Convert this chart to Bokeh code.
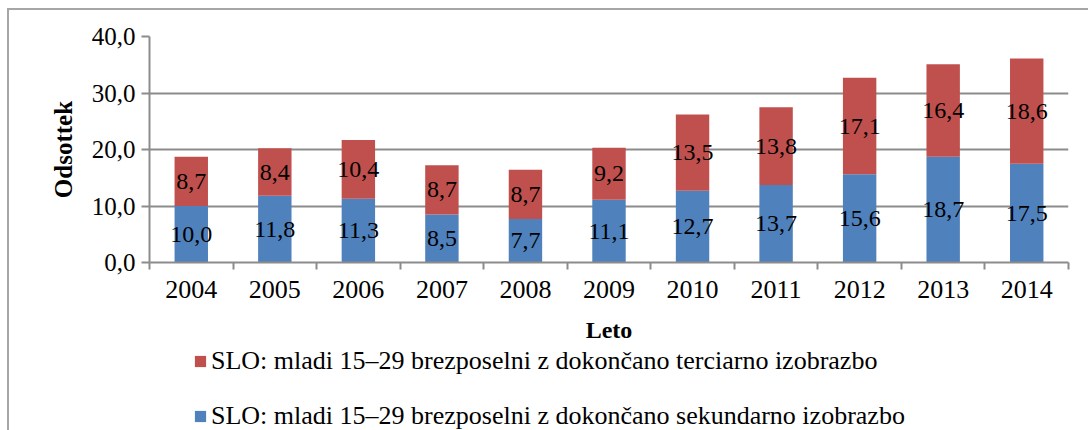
from bokeh.plotting import figure
from bokeh.models import (ColumnDataSource, Range1d, FixedTicker, LabelSet,
                          Legend, LegendItem)
from bokeh.layouts import column
from bokeh.core.properties import value
from bokeh.embed import file_html
from bokeh.resources import INLINE

years = ["2004", "2005", "2006", "2007", "2008", "2009", "2010", "2011", "2012", "2013", "2014"]
sekundarno = [10.0, 11.8, 11.3, 8.5, 7.7, 11.1, 12.7, 13.7, 15.6, 18.7, 17.5]
terciarno = [8.7, 8.4, 10.4, 8.7, 8.7, 9.2, 13.5, 13.8, 17.1, 16.4, 18.6]
y_ticks = [0, 10, 20, 30, 40]
name_sek = "SLO: mladi 15–29 brezposelni z dokončano sekundarno izobrazbo"
name_ter = "SLO: mladi 15–29 brezposelni z dokončano terciarno izobrazbo"

FONT = "Liberation Serif"
BLUE = "#4F81BD"
RED = "#C0504D"
GRAY = "#8C8C8C"

def fmt(v):
    return ("%.1f" % v).replace(".", ",")

x = [i + 0.5 for i in range(len(years))]
top = [a + b for a, b in zip(sekundarno, terciarno)]
src = ColumnDataSource(dict(
    x=x, sek=sekundarno, ter=terciarno, top=top,
    sek_mid=[a / 2 for a in sekundarno],
    ter_mid=[a + b / 2 for a, b in zip(sekundarno, terciarno)],
    sek_lbl=[fmt(v) for v in sekundarno],
    ter_lbl=[fmt(v) for v in terciarno],
))

p = figure(frame_width=919, frame_height=226, output_backend="svg", toolbar_location=None,
           x_range=Range1d(0, len(years)), y_range=Range1d(0, 40),
           min_border_left=140, min_border_right=20, min_border_top=26, min_border_bottom=60)
p.outline_line_color = None
p.background_fill_color = "white"
p.border_fill_color = "white"

r_sek = p.vbar(x="x", bottom=0, top="sek", width=0.4, source=src,
               fill_color=BLUE, line_color=None)
r_ter = p.vbar(x="x", bottom="sek", top="top", width=0.4, source=src,
               fill_color=RED, line_color=None)

for col_y, col_t in (("sek_mid", "sek_lbl"), ("ter_mid", "ter_lbl")):
    p.add_layout(LabelSet(x="x", y=col_y, text=col_t, source=src,
                          text_align="center", text_baseline="middle",
                          text_font=value(FONT), text_font_size="24px",
                          text_color="black"))

# y axis
p.yaxis.ticker = FixedTicker(ticks=y_ticks)
p.yaxis.major_label_overrides = {t: fmt(t) for t in y_ticks}
p.yaxis.minor_tick_line_color = None
p.yaxis.major_tick_out = 8
p.yaxis.major_tick_in = 0
p.yaxis.axis_line_color = GRAY
p.yaxis.axis_line_width = 2
p.yaxis.major_tick_line_color = GRAY
p.yaxis.major_tick_line_width = 2
p.yaxis.major_label_text_font = FONT
p.yaxis.major_label_text_font_size = "25px"
p.yaxis.major_label_text_color = "black"
p.yaxis.major_label_standoff = 6
p.yaxis.axis_label = "Odsottek"
p.yaxis.axis_label_text_font = FONT
p.yaxis.axis_label_text_font_size = "25px"
p.yaxis.axis_label_text_font_style = "bold"
p.yaxis.axis_label_text_color = "black"
p.yaxis.axis_label_standoff = 12

# x axis
p.xaxis.ticker = FixedTicker(ticks=x, minor_ticks=list(range(len(years) + 1)))
p.xaxis.major_label_overrides = {xi: y for xi, y in zip(x, years)}
p.xaxis.major_tick_out = 0
p.xaxis.major_tick_in = 0
p.xaxis.minor_tick_out = 7
p.xaxis.minor_tick_in = 0
p.xaxis.minor_tick_line_color = GRAY
p.xaxis.minor_tick_line_width = 2
p.xaxis.axis_line_color = GRAY
p.xaxis.axis_line_width = 2
p.xaxis.major_label_text_font = FONT
p.xaxis.major_label_text_font_size = "26px"
p.xaxis.major_label_text_color = "black"
p.xaxis.major_label_standoff = 11
p.xaxis.axis_label = "Leto"
p.xaxis.axis_label_text_font = FONT
p.xaxis.axis_label_text_font_size = "24px"
p.xaxis.axis_label_text_font_style = "bold"
p.xaxis.axis_label_text_color = "black"
p.xaxis.axis_label_standoff = 16

p.xgrid.grid_line_color = None
p.ygrid.ticker = FixedTicker(ticks=y_ticks)
p.ygrid.grid_line_color = GRAY
p.ygrid.grid_line_width = 2

# legend strip below the chart (its renderers are hidden; only the legend shows)
pl = figure(width=1079, height=87, output_backend="svg", toolbar_location=None,
            x_axis_location=None, y_axis_location=None, min_border=0,
            x_range=Range1d(0, 1), y_range=Range1d(0, 1))
pl.outline_line_color = None
pl.grid.visible = False
l_ter = pl.vbar(x="x", bottom="sek", top="top", width=0.4, source=src,
                fill_color=RED, line_color=None, visible=False)
l_sek = pl.vbar(x="x", bottom=0, top="sek", width=0.4, source=src,
                fill_color=BLUE, line_color=None, visible=False)
legend = Legend(items=[LegendItem(label=name_ter, renderers=[l_ter], index=0),
                       LegendItem(label=name_sek, renderers=[l_sek], index=0)],
                location=(44, 1), orientation="vertical",
                glyph_width=14, glyph_height=14, label_standoff=4,
                label_height=30, spacing=25, padding=0, margin=0,
                label_text_font=FONT, label_text_font_size="26px",
                label_text_color="black", border_line_color=None,
                background_fill_alpha=0, inactive_fill_alpha=0)
pl.add_layout(legend, "center")

layout = column(p, pl, spacing=0)
layout.styles = {"border-left": "2px solid #A6A6A6", "border-top": "2px solid #A6A6A6",
                 "margin-top": "8px", "margin-left": "7px"}

open("out.html", "w").write(file_html(layout, INLINE))
